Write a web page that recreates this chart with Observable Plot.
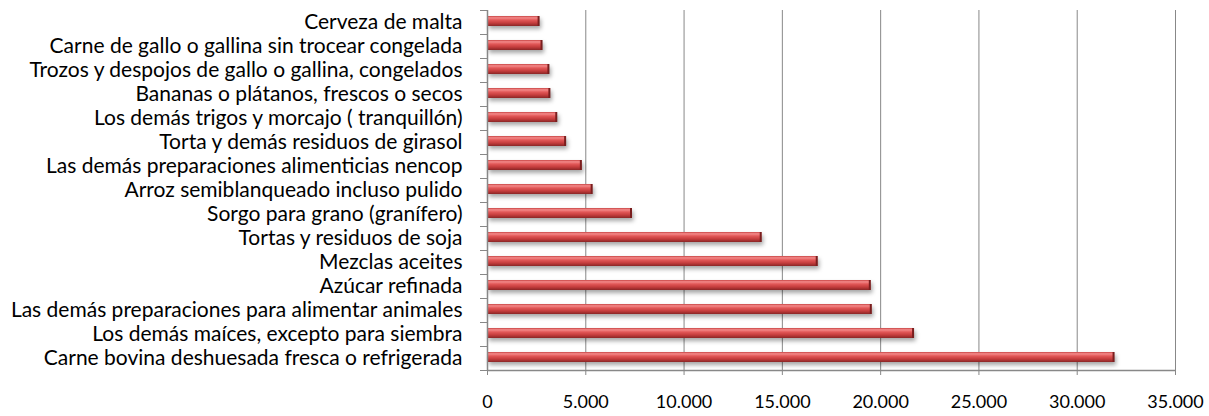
<!DOCTYPE html>
<html>
<head>
<meta charset="utf-8">
<script src="https://cdn.jsdelivr.net/npm/d3@7"></script>
<script src="https://cdn.jsdelivr.net/npm/@observablehq/plot@0.6"></script>
<style>
  html, body { margin: 0; padding: 0; background: #fff; }
  #chart svg { font-family: Lato, "Open Sans", sans-serif; }
</style>
</head>
<body>
<div id="chart"></div>
<script>
const categories = [
  "Cerveza de malta",
  "Carne de gallo o gallina sin trocear congelada",
  "Trozos y despojos de gallo o gallina, congelados",
  "Bananas o plátanos, frescos o secos",
  "Los demás trigos y morcajo ( tranquillón)",
  "Torta y demás residuos de girasol",
  "Las demás preparaciones alimenticias nencop",
  "Arroz semiblanqueado incluso pulido",
  "Sorgo para grano (granífero)",
  "Tortas y residuos de soja",
  "Mezclas aceites",
  "Azúcar refinada",
  "Las demás preparaciones para alimentar animales",
  "Los demás maíces, excepto para siembra",
  "Carne bovina deshuesada fresca o refrigerada"
];
const values = [2650, 2800, 3150, 3200, 3550, 4000, 4800, 5350, 7350, 13950, 16800, 19500, 19550, 21700, 31900];
const xTicks = [0, 5000, 10000, 15000, 20000, 25000, 30000, 35000];

const data = categories.map((c, i) => ({cat: c, value: values[i]}));
const fmt = d => d3.format(",")(d).replace(/,/g, ".");
const grey = "#888888";

const chart = Plot.plot({
  width: 1209,
  height: 416,
  marginLeft: 487,
  marginRight: 34,
  marginTop: 10,
  marginBottom: 46,
  x: {domain: [0, 35000]},
  y: {domain: categories, padding: 0},
  marks: [
    Plot.gridX(xTicks, {stroke: grey, strokeOpacity: 1, strokeWidth: 1}),
    Plot.barX(data, {x: "value", y: "cat", fill: "url(#barGrad)", insetTop: 6, insetBottom: 8}),
    Plot.tickX(data, {x: "value", y: "cat", stroke: "#7a1e1e", strokeWidth: 2, dx: -1, insetTop: 6, insetBottom: 8}),
    Plot.ruleX([0], {stroke: grey, strokeWidth: 1.5}),
    Plot.ruleY([categories[categories.length - 1]], {x1: 0, x2: 35000, stroke: grey, strokeWidth: 1.5, dy: 12}),
    Plot.axisX(xTicks, {tickSize: 5, tickPadding: 20, tickFormat: fmt, stroke: grey, fill: "#000", fontSize: 18, label: null}),
    Plot.axisY({tickSize: 0, tickPadding: 25, fill: "#000", fontSize: 21, dy: -0.5, label: null}),
    Plot.axisY({tickSize: 7, fill: "none", stroke: grey, dy: -12, label: null}),
    Plot.axisY([categories[categories.length - 1]], {tickSize: 7, fill: "none", stroke: grey, dy: 12, label: null})
  ]
});

const svg = d3.select(chart);
const defs = svg.insert("defs", ":first-child");
const g = defs.append("linearGradient").attr("id", "barGrad").attr("x1", 0).attr("y1", 0).attr("x2", 0).attr("y2", 1);
[["0%", "#c84444"], ["18%", "#f48a8a"], ["40%", "#e25858"], ["70%", "#c43c3c"], ["100%", "#8a2626"]]
  .forEach(([o, c]) => g.append("stop").attr("offset", o).attr("stop-color", c));
svg.selectAll("g[aria-label='bar']").style("filter", "drop-shadow(2px 3px 2px rgba(0,0,0,0.35))");

document.getElementById("chart").append(chart);
</script>
</body>
</html>
